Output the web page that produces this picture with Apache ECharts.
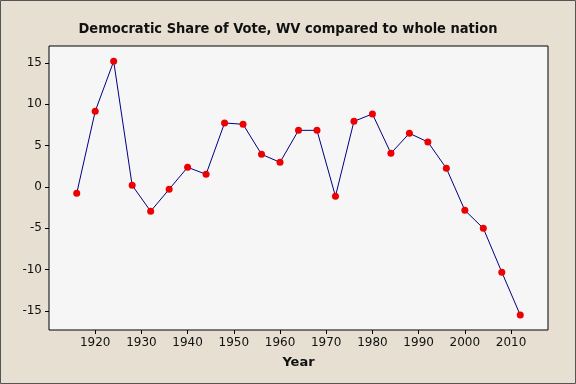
<!DOCTYPE html>
<html>
<head>
<meta charset="utf-8">
<script src="https://cdn.jsdelivr.net/npm/echarts@6/dist/echarts.min.js"></script>
<style>html,body{margin:0;padding:0;background:#e6dfd2;}#c{width:576px;height:384px;}</style>
</head>
<body>
<div id="c"></div>
<script>
const years = [1916,1920,1924,1928,1932,1936,1940,1944,1948,1952,1956,1960,1964,1968,1972,1976,1980,1984,1988,1992,1996,2000,2004,2008,2012];
const shareDiff = [-0.77,9.15,15.2,0.2,-2.94,-0.28,2.38,1.53,7.74,7.58,3.95,2.98,6.85,6.85,-1.13,7.94,8.83,4.07,6.49,5.44,2.26,-2.82,-5.0,-10.3,-15.5];
const xTicks = [1920,1930,1940,1950,1960,1970,1980,1990,2000,2010];
const yTicks = [-15,-10,-5,0,5,10,15];
const titleText = 'Democratic Share of Vote, WV compared to whole nation';
const xName = 'Year';

const chart = echarts.init(document.getElementById('c'), null, {renderer:'canvas'});
const font = 'Tahoma, "DejaVu Sans", sans-serif';
chart.setOption({
  backgroundColor: '#e6dfd2',
  animation: false,
  title: {
    text: titleText, left: 'center', top: 17,
    textStyle: {fontFamily: '"DejaVu Sans Condensed", "DejaVu Sans", sans-serif', fontSize: 14.5, fontWeight: 'bold', color: '#111'}
  },
  grid: {left: 49, top: 46, right: 28, bottom: 54, show: true, backgroundColor: '#f7f6f7', borderColor: '#000', borderWidth: 1},
  xAxis: {
    type: 'value', min: 1910, max: 2018,
    name: xName, nameLocation: 'middle', nameGap: 20,
    nameTextStyle: {fontFamily: font, fontSize: 13, fontWeight: 'bold', color: '#111', padding: [6,0,0,0]},
    axisLine: {show: false, onZero: false},
    splitLine: {show: false},
    axisTick: {show: true, length: 4, lineStyle: {color: '#000'}, customValues: xTicks},
    axisLabel: {fontFamily: font, fontSize: 12, color: '#111', margin: 7, customValues: xTicks, formatter: v => String(v)}
  },
  yAxis: {
    type: 'value', min: -17.3, max: 17.05,
    axisLine: {show: false, onZero: false},
    splitLine: {show: false},
    axisTick: {show: true, length: 4, lineStyle: {color: '#000'}, customValues: yTicks},
    axisLabel: {fontFamily: font, fontSize: 12, color: '#111', margin: 7, customValues: yTicks, formatter: v => String(v)}
  },
  series: [{
    type: 'line',
    data: years.map((y, i) => [y, shareDiff[i]]),
    lineStyle: {color: '#000080', width: 1},
    symbol: 'circle', symbolSize: 7,
    itemStyle: {color: '#ee0000', borderWidth: 0},
    z: 3
  }],
  graphic: [{
    type: 'rect', shape: {x: 0.5, y: 0.5, width: 575, height: 383},
    style: {fill: null, stroke: '#555', lineWidth: 1}, silent: true
  }]
});
</script>
</body>
</html>
